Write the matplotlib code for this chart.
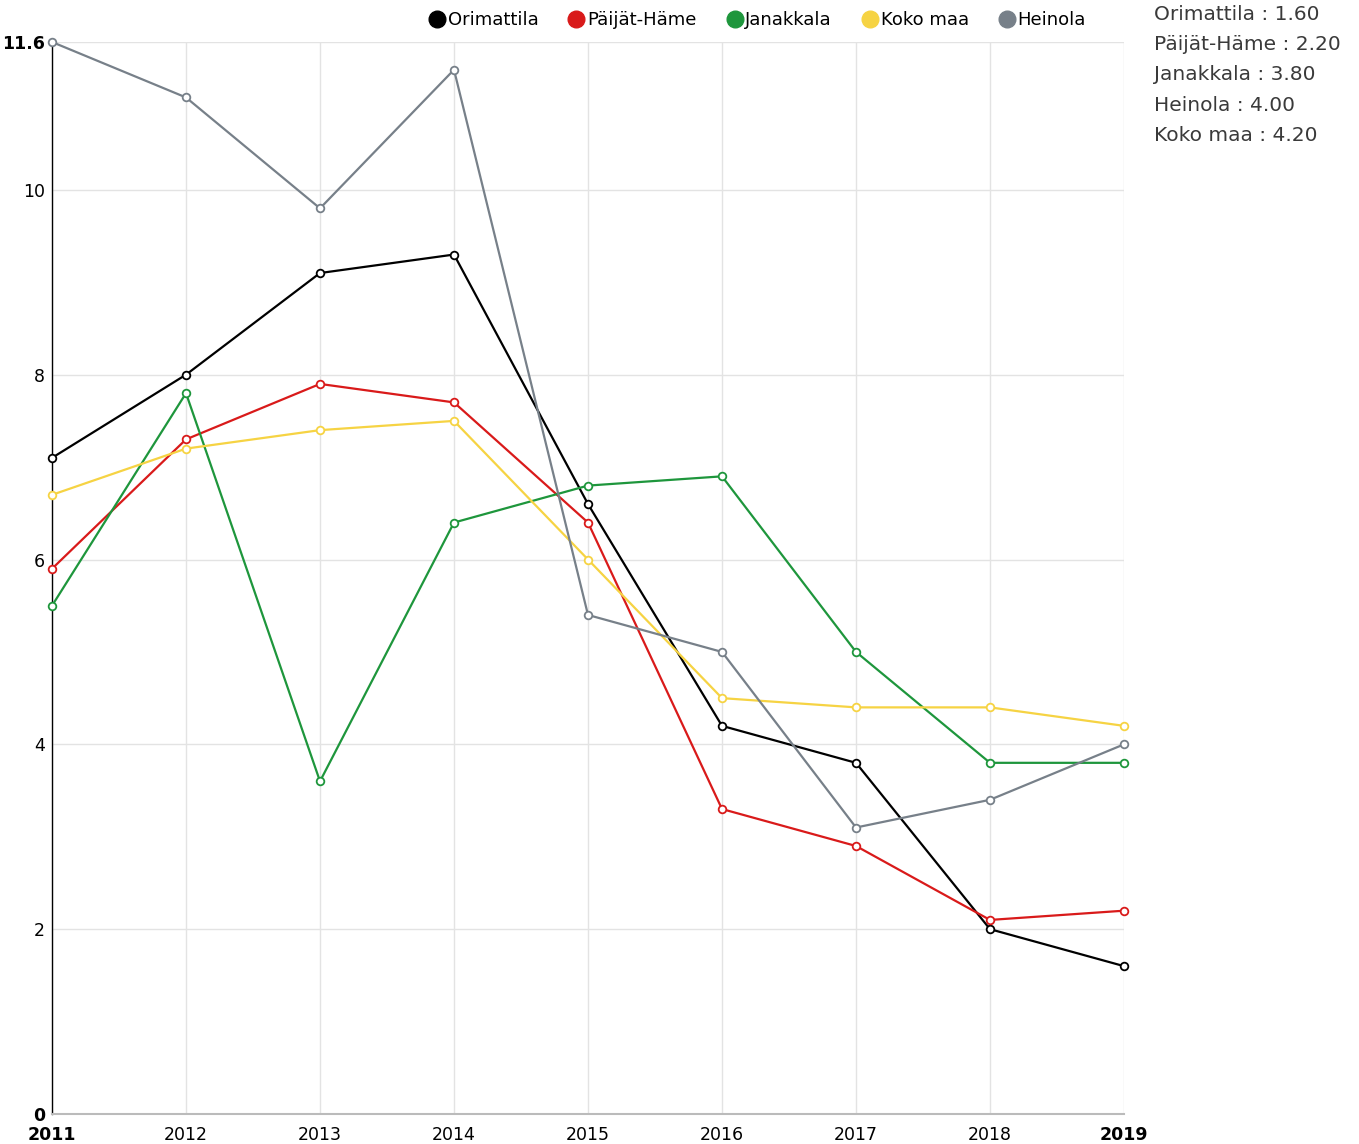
import matplotlib
matplotlib.use('Agg')
from matplotlib import pyplot as plt
from matplotlib.lines import Line2D

plt.rcParams['font.family'] = ['DejaVu Sans']

# vuodet ja sarjat
years = [2011, 2012, 2013, 2014, 2015, 2016, 2017, 2018, 2019]
orimattila = [7.1, 8.0, 9.1, 9.3, 6.6, 4.2, 3.8, 2.0, 1.6]
paijat_hame = [5.9, 7.3, 7.9, 7.7, 6.4, 3.3, 2.9, 2.1, 2.2]
janakkala = [5.5, 7.8, 3.6, 6.4, 6.8, 6.9, 5.0, 3.8, 3.8]
koko_maa = [6.7, 7.2, 7.4, 7.5, 6.0, 4.5, 4.4, 4.4, 4.2]
heinola = [11.6, 11.0, 9.8, 11.3, 5.4, 5.0, 3.1, 3.4, 4.0]

names = ['Orimattila', 'Päijät-Häme', 'Janakkala', 'Koko maa', 'Heinola']
series = [orimattila, paijat_hame, janakkala, koko_maa, heinola]
colors = ['#000000', '#d91a1a', '#1e963c', '#f6d343', '#778089']

y_ticks = [0, 2, 4, 6, 8, 10, 11.6]

fig = plt.figure(figsize=(13.59, 11.44), dpi=100)
ax = fig.add_axes([52 / 1359, 1 - 1114 / 1144, (1124 - 52) / 1359, (1114 - 42) / 1144])

for vals, c in zip(series, colors):
    ax.plot(years, vals, '-', color=c, lw=1.6, marker='o', ms=5.5,
            mfc='white', mec=c, mew=1.3, clip_on=False, zorder=3)

ax.set_xlim(2011, 2019)
ax.set_ylim(0, 11.6)
ax.set_xticks(years)
ax.set_yticks(y_ticks)
ax.set_xticklabels([str(y) for y in years], fontsize=12.5)
ax.set_yticklabels(['0', '2', '4', '6', '8', '10', '11.6'], fontsize=12.5)
for lbl in (ax.get_xticklabels()[0], ax.get_xticklabels()[-1],
            ax.get_yticklabels()[0], ax.get_yticklabels()[-1]):
    lbl.set_fontweight('bold')
ax.tick_params(axis='x', length=0, pad=9)
ax.tick_params(axis='y', length=0, pad=5)
ax.grid(True, color='#e3e3e3', lw=1)
ax.set_axisbelow(True)
for s in ('top', 'right'):
    ax.spines[s].set_visible(False)
ax.spines['left'].set_color('black')
ax.spines['left'].set_linewidth(1)
ax.spines['bottom'].set_color('#bbbbbb')
ax.spines['bottom'].set_linewidth(1.5)

# selite yläreunaan
handles = [Line2D([], [], ls='none', marker='o', ms=12, color=c) for c in colors]
fig.legend(handles, names, loc='center', bbox_to_anchor=(756 / 1359, 1 - 20 / 1144),
           ncol=5, frameon=False, fontsize=13, handletextpad=0.0,
           columnspacing=1.5, handlelength=1.2)

# viimeisimmät arvot oikeaan yläkulmaan
last = sorted(zip(names, series), key=lambda t: t[1][-1])
txt = '\n'.join(f'{n} : {v[-1]:.2f}' for n, v in last)
fig.text(1154 / 1359, 1 - 5 / 1144, txt, ha='left', va='top', fontsize=14.5,
         color='#3a3a3a', linespacing=1.75)

fig.savefig('out.png', dpi=100)
